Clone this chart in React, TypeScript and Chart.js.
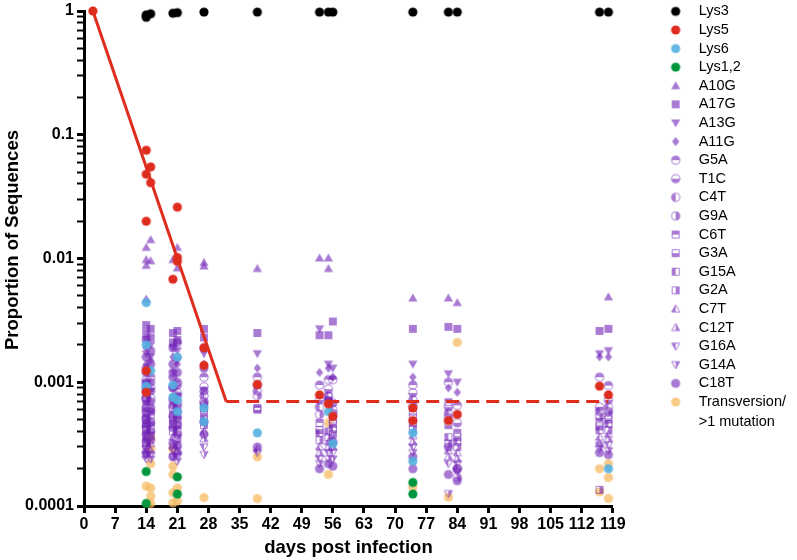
import { useEffect, useRef } from "react"
import { Chart, registerables } from "chart.js"

Chart.register(...registerables)

type Pt = [number, number] // [day, proportion]

const FONT = "'Liberation Sans', Arial, Helvetica, sans-serif"

// axis ticks
const xTicks = [0, 7, 14, 21, 28, 35, 42, 49, 56, 63, 70, 77, 84, 91, 98, 105, 112, 119]
const yTickLabels = ["0.0001", "0.001", "0.01", "0.1", "1"]
const yTitle = "Proportion of Sequences"
const xTitle = "days post infection"

const seriesNames = [
  "Lys3", "Lys5", "Lys6", "Lys1,2",
  "A10G", "A17G", "A13G", "A11G",
  "G5A", "T1C", "C4T", "G9A",
  "C6T", "G3A", "G15A", "G2A",
  "C7T", "C12T", "G16A", "G14A",
  "C18T", "Transversion/\n>1 mutation",
]

// fitted decline of Lys5, then plateau
const fitDecline: Pt[] = [[2, 1], [32, 0.0007]]
const fitPlateau: Pt[] = [[32, 0.0007], [118, 0.0007]]

const lys3: Pt[] = [[14, 0.93], [14, 0.89], [15, 0.95], [20, 0.96], [21, 0.97], [27, 0.98], [39, 0.98], [53, 0.98], [55, 0.98], [56, 0.98], [74, 0.98], [82, 0.98], [84, 0.98], [116, 0.98], [118, 0.98]]
const lys5: Pt[] = [[2, 1], [14, 0.075], [15, 0.055], [14, 0.048], [15, 0.041], [21, 0.026], [14, 0.02], [21, 0.0102], [21, 0.0095], [20, 0.0068], [27, 0.0019], [27, 0.00137], [14, 0.00124], [14, 0.00083], [39, 0.00096], [53, 0.00079], [55, 0.00067], [56, 0.00053], [74, 0.00062], [74, 0.00049], [82, 0.00049], [84, 0.00055], [116, 0.00093], [118, 0.00079]]
const lys6: Pt[] = [[14, 0.0044], [14, 0.002], [15, 0.00124], [14, 0.00093], [21, 0.0016], [20, 0.00095], [20, 0.00076], [21, 0.00072], [21, 0.00058], [27, 0.00062], [27, 0.00048], [39, 0.00039], [55, 0.00058], [56, 0.00032], [74, 0.00039], [74, 0.00023], [118, 0.0002]]
const lys12: Pt[] = [[14, 0.00019], [14, 0.000105], [21, 0.000172], [21, 0.000125], [74, 0.000155], [74, 0.000125]]

const a10g: Pt[] = [[14, 0.0123], [14, 0.0098], [14, 0.0088], [14, 0.0047], [15, 0.0142], [15, 0.0096], [20, 0.0098], [21, 0.0123], [21, 0.0084], [27, 0.0093], [27, 0.0087], [39, 0.0083], [53, 0.0101], [55, 0.0101], [55, 0.0083], [74, 0.0048], [82, 0.0048], [84, 0.0044], [118, 0.0049]]
const a17g: Pt[] = [[14, 0.0029], [14, 0.0025], [15, 0.0027], [15, 0.0023], [20, 0.0025], [20, 0.0021], [21, 0.0026], [21, 0.0022], [27, 0.0027], [27, 0.0023], [39, 0.0025], [53, 0.0024], [55, 0.0024], [56, 0.0031], [74, 0.0027], [82, 0.0028], [84, 0.0027], [116, 0.0026], [118, 0.0027]]
const a13g: Pt[] = [[14, 0.0022], [14, 0.0017], [15, 0.002], [15, 0.0016], [20, 0.0019], [21, 0.0018], [21, 0.0015], [27, 0.0017], [39, 0.0017], [53, 0.0027], [55, 0.0014], [56, 0.0013], [74, 0.0014], [82, 0.00117], [84, 0.001], [116, 0.0017], [118, 0.0018]]
const a11g: Pt[] = [[14, 0.0019], [14, 0.0014], [15, 0.0015], [20, 0.0016], [20, 0.0012], [21, 0.0014], [27, 0.0014], [39, 0.0013], [53, 0.0012], [55, 0.0013], [56, 0.0011], [74, 0.0011], [82, 0.0009], [84, 0.00083], [116, 0.0016], [118, 0.0016]]
const g5a: Pt[] = [[14, 0.0013], [14, 0.00095], [15, 0.0011], [20, 0.0012], [21, 0.001], [27, 0.0011], [39, 0.0011], [53, 0.00095], [55, 0.00105], [56, 0.00105], [74, 0.00095], [82, 0.001], [84, 0.00065], [116, 0.0011], [118, 0.00094]]
const t1c: Pt[] = [[14, 0.00105], [14, 0.00072], [15, 0.0009], [20, 0.00092], [21, 0.00082], [27, 0.00092], [39, 0.00095], [53, 0.00072], [55, 0.00088], [56, 0.00068], [74, 0.00082], [82, 0.00063], [84, 0.00047], [116, 0.00063], [118, 0.00072]]
const c4t: Pt[] = [[14, 0.00085], [14, 0.00058], [15, 0.00075], [20, 0.00072], [21, 0.00068], [27, 0.00078], [39, 0.00085], [53, 0.00063], [55, 0.00077], [56, 0.0006], [74, 0.00072], [82, 0.00056], [84, 0.0002], [116, 0.00058], [118, 0.00063]]
const g9a: Pt[] = [[14, 0.00075], [14, 0.0005], [15, 0.00062], [20, 0.00062], [21, 0.00058], [27, 0.0007], [39, 0.00078], [53, 0.00055], [55, 0.0007], [56, 0.00056], [74, 0.00065], [82, 0.00052], [84, 0.00017], [116, 0.00053], [118, 0.00058]]
const c6t: Pt[] = [[14, 0.00065], [14, 0.00046], [15, 0.00055], [20, 0.00055], [21, 0.0005], [27, 0.00062], [39, 0.00062], [53, 0.00047], [55, 0.0007], [56, 0.0005], [74, 0.00058], [82, 0.00069], [84, 0.00039], [116, 0.00048], [118, 0.00054]]
const g3a: Pt[] = [[14, 0.00055], [14, 0.00041], [15, 0.00048], [20, 0.0005], [21, 0.00045], [27, 0.00057], [39, 0.0006], [53, 0.00041], [55, 0.00077], [56, 0.00046], [74, 0.00052], [82, 0.00045], [84, 0.00036], [116, 0.00044], [118, 0.0005]]
const g15a: Pt[] = [[14, 0.00047], [14, 0.00036], [15, 0.00042], [20, 0.00046], [21, 0.0004], [27, 0.0005], [53, 0.00039], [55, 0.0004], [56, 0.00042], [74, 0.00047], [82, 0.00036], [84, 0.00033], [116, 0.00041], [118, 0.00046]]
const g2a: Pt[] = [[14, 0.00042], [14, 0.00031], [15, 0.00037], [20, 0.0004], [21, 0.00035], [27, 0.00045], [53, 0.00034], [55, 0.00036], [56, 0.00038], [74, 0.00042], [82, 0.00032], [84, 0.0003], [116, 0.000135], [118, 0.00041]]
const c7t: Pt[] = [[14, 0.00036], [14, 0.00028], [15, 0.00032], [20, 0.00036], [21, 0.00031], [27, 0.0004], [39, 0.00029], [53, 0.0003], [55, 0.00033], [56, 0.00034], [74, 0.00037], [82, 0.00028], [84, 0.00027], [116, 0.00036], [118, 0.00038]]
const c12t: Pt[] = [[14, 0.00032], [14, 0.00026], [15, 0.00028], [20, 0.00031], [21, 0.00028], [27, 0.00035], [53, 0.00027], [55, 0.0003], [56, 0.0003], [74, 0.00033], [82, 0.00025], [84, 0.00024], [116, 0.00032], [118, 0.00035]]
const g16a: Pt[] = [[14, 0.00029], [14, 0.00024], [15, 0.00026], [20, 0.00028], [21, 0.00025], [27, 0.0003], [39, 0.00027], [53, 0.00024], [55, 0.00027], [56, 0.00027], [74, 0.0003], [82, 0.00022], [84, 0.00022], [116, 0.00031], [118, 0.00031]]
const g14a: Pt[] = [[14, 0.00026], [15, 0.00024], [20, 0.00025], [21, 0.00023], [27, 0.00026], [53, 0.00022], [55, 0.00024], [56, 0.00024], [74, 0.00027], [82, 0.000126], [84, 0.00019], [116, 0.00029], [118, 0.00028]]
const c18t: Pt[] = [[14, 0.0022], [14, 0.0016], [14, 0.0012], [14, 0.001], [14, 0.0009], [14, 0.00075], [14, 0.00062], [14, 0.00052], [14, 0.00044], [14, 0.00038], [14, 0.00033], [14, 0.00027], [15, 0.0018], [15, 0.0014], [15, 0.001], [15, 0.00085], [15, 0.0007], [15, 0.00058], [15, 0.00047], [15, 0.0004], [15, 0.00034], [20, 0.0019], [20, 0.0014], [20, 0.0011], [20, 0.0009], [20, 0.00065], [20, 0.00053], [20, 0.00043], [20, 0.00032], [20, 0.00025], [21, 0.0021], [21, 0.0012], [21, 0.00095], [21, 0.00078], [21, 0.00064], [21, 0.00052], [21, 0.00045], [21, 0.00038], [21, 0.00031], [21, 0.00027], [27, 0.0019], [27, 0.0013], [27, 0.00085], [27, 0.00067], [27, 0.00048], [27, 0.00038], [39, 0.0003], [53, 0.0002], [55, 0.00022], [56, 0.00021], [56, 0.00033], [74, 0.00025], [74, 0.0002], [82, 0.0003], [82, 0.00018], [84, 0.0002], [84, 0.00016], [116, 0.00027], [118, 0.00026]]
const transversion: Pt[] = [[14, 0.000145], [15, 0.00036], [15, 0.00029], [15, 0.00022], [15, 0.00014], [15, 0.00012], [15, 0.000105], [20, 0.00029], [20, 0.00021], [20, 0.00018], [20, 0.000128], [20, 0.000106], [21, 0.00014], [21, 0.00011], [27, 0.000117], [39, 0.00025], [39, 0.000115], [55, 0.00047], [55, 0.00018], [74, 0.000142], [82, 0.000118], [84, 0.0021], [116, 0.0002], [116, 0.00013], [118, 0.00022], [118, 0.00017], [118, 0.000115]]

const seriesData = [lys3, lys5, lys6, lys12, a10g, a17g, a13g, a11g, g5a, t1c, c4t, g9a, c6t, g3a, g15a, g2a, c7t, c12t, g16a, g14a, c18t, transversion]

type Shape = "circle" | "square" | "triUp" | "triDown" | "diamond"
type Half = "full" | "top" | "bottom" | "left" | "right"

const PURPLE = "rgb(112, 34, 182)"
const PA = 0.6
const RED = "rgb(222, 45, 30)"

// marker look per series (same order as seriesNames)
const markerStyles: [Shape, Half, string, number][] = [
  ["circle", "full", "#000", 1],
  ["circle", "full", RED, 1],
  ["circle", "full", "rgb(84, 176, 224)", 0.9],
  ["circle", "full", "rgb(0, 150, 62)", 1],
  ["triUp", "full", PURPLE, PA],
  ["square", "full", PURPLE, PA],
  ["triDown", "full", PURPLE, PA],
  ["diamond", "full", PURPLE, PA],
  ["circle", "top", PURPLE, PA],
  ["circle", "bottom", PURPLE, PA],
  ["circle", "left", PURPLE, PA],
  ["circle", "right", PURPLE, PA],
  ["square", "top", PURPLE, PA],
  ["square", "bottom", PURPLE, PA],
  ["square", "left", PURPLE, PA],
  ["square", "right", PURPLE, PA],
  ["triUp", "left", PURPLE, PA],
  ["triUp", "right", PURPLE, PA],
  ["triDown", "left", PURPLE, PA],
  ["triDown", "right", PURPLE, PA],
  ["circle", "full", PURPLE, PA],
  ["circle", "full", "rgb(246, 186, 96)", 0.75],
]

function makeMarker(shape: Shape, half: Half, color: string, alpha: number, r = 4.6) {
  const size = 12
  const c = size / 2
  const cv = document.createElement("canvas")
  cv.width = size
  cv.height = size
  const g = cv.getContext("2d")!
  const rr = half === "full" ? r : r - 0.5
  const path = () => {
    g.beginPath()
    if (shape === "circle") {
      g.arc(c, c, rr, 0, Math.PI * 2)
    } else if (shape === "square") {
      const s = rr * 0.86
      g.rect(c - s, c - s, 2 * s, 2 * s)
    } else if (shape === "triUp") {
      g.moveTo(c, c - rr)
      g.lineTo(c + rr, c + rr * 0.75)
      g.lineTo(c - rr, c + rr * 0.75)
      g.closePath()
    } else if (shape === "triDown") {
      g.moveTo(c, c + rr)
      g.lineTo(c + rr, c - rr * 0.75)
      g.lineTo(c - rr, c - rr * 0.75)
      g.closePath()
    } else {
      g.moveTo(c, c - rr)
      g.lineTo(c + rr * 0.8, c)
      g.lineTo(c, c + rr)
      g.lineTo(c - rr * 0.8, c)
      g.closePath()
    }
  }
  g.fillStyle = color
  g.strokeStyle = color
  g.lineWidth = 1
  if (half === "full") {
    path()
    g.fill()
  } else {
    g.save()
    g.beginPath()
    if (half === "top") g.rect(0, 0, size, c)
    else if (half === "bottom") g.rect(0, c, size, c)
    else if (half === "left") g.rect(0, 0, c, size)
    else g.rect(c, 0, c, size)
    g.clip()
    path()
    g.fill()
    g.restore()
    path()
    g.stroke()
  }
  // bake the transparency into the image
  g.globalCompositeOperation = "destination-in"
  g.fillStyle = `rgba(0,0,0,${alpha})`
  g.fillRect(0, 0, size, size)
  return cv
}

const pts = (a: Pt[]) => a.map(([x, y]) => ({ x, y }))

const isDecade = (v: number) => {
  const e = Math.log10(v)
  return Math.abs(e - Math.round(e)) < 1e-6
}

// y title sits a bit above the axis middle in the original, so draw it by hand
const yTitlePlugin = {
  id: "yTitle",
  afterDraw(chart: Chart) {
    const c = chart.ctx
    c.save()
    c.translate(13, 240)
    c.rotate(-Math.PI / 2)
    c.font = `bold 18.5px ${FONT}`
    c.fillStyle = "#000"
    c.textAlign = "center"
    c.textBaseline = "middle"
    c.fillText(yTitle, 0, 0)
    c.restore()
  },
}

export default function App() {
  const chartRef = useRef<HTMLCanvasElement>(null)

  useEffect(() => {
    if (!chartRef.current) return
    const ctx = chartRef.current.getContext("2d")
    if (!ctx) return

    const markers = markerStyles.map(([s, h, col, a]) => makeMarker(s, h, col, a))

    const chart = new Chart(ctx, {
      type: "scatter",
      data: {
        datasets: [
          {
            type: "line",
            label: "",
            data: pts(fitDecline),
            borderColor: RED,
            borderWidth: 3,
            pointRadius: 0,
            fill: false,
            clip: false,
          } as any,
          {
            type: "line",
            label: "",
            data: pts(fitPlateau),
            borderColor: RED,
            borderWidth: 3,
            borderDash: [13, 7],
            pointRadius: 0,
            fill: false,
            clip: false,
          } as any,
          ...seriesData.map((d, i) => ({
            label: seriesNames[i],
            data: pts(d),
            pointStyle: markers[i],
            pointRadius: 5,
            clip: false,
          })),
        ],
      },
      options: {
        animation: false,
        responsive: true,
        maintainAspectRatio: false,
        events: [],
        layout: { padding: { left: 0, right: 10, top: 0, bottom: 0 } },
        plugins: {
          tooltip: { enabled: false },
          legend: {
            position: "right",
            align: "start",
            labels: {
              usePointStyle: true,
              pointStyleWidth: 31.5,
              padding: 4.1,
              color: "#000",
              font: { family: FONT, size: 14.5, lineHeight: 1.4 },
              filter: (item: any) => item.text !== "",
              generateLabels: (c: Chart) =>
                Chart.defaults.plugins.legend.labels.generateLabels(c).map((item: any) => ({
                  ...item,
                  text: typeof item.text === "string" && item.text.includes("\n") ? item.text.split("\n") : item.text,
                })),
            },
          },
        },
        scales: {
          x: {
            type: "linear",
            min: 0,
            max: 119,
            border: { color: "#000", width: 3 },
            grid: { drawOnChartArea: false, tickLength: 7, tickWidth: 3, tickColor: "#000" },
            afterBuildTicks: (s: any) => {
              s.ticks = xTicks.map((value) => ({ value }))
            },
            ticks: {
              autoSkip: false,
              maxRotation: 0,
              color: "#000",
              padding: 2,
              font: { family: FONT, size: 16, weight: "bold" },
            },
            title: {
              display: true,
              text: xTitle,
              color: "#000",
              font: { family: FONT, size: 18.5, weight: "bold" },
              padding: { top: 2, bottom: 1 },
            },
            afterFit: (s: any) => {
              s.height = 54
            },
          },
          y: {
            type: "logarithmic",
            min: 0.0001,
            max: 1,
            border: { color: "#000", width: 3 },
            grid: {
              drawOnChartArea: false,
              tickLength: 7,
              tickColor: "#000",
              tickWidth: (c: any) => (c.tick && isDecade(c.tick.value) ? 3 : 2),
            },
            afterBuildTicks: (s: any) => {
              // keep 1..9 per decade only
              s.ticks = s.ticks.filter((t: any) => {
                const m = t.value / Math.pow(10, Math.floor(Math.log10(t.value) + 1e-9))
                return Math.abs(m - Math.round(m)) < 1e-6
              })
            },
            ticks: {
              autoSkip: false,
              color: "#000",
              padding: 3,
              font: { family: FONT, size: 16, weight: "bold" },
              callback: (v: any) => {
                const n = Number(v)
                return isDecade(n) ? yTickLabels[Math.round(Math.log10(n)) + 4] : ""
              },
            },
            afterFit: (s: any) => {
              s.width = 84
              s.paddingTop = 11
            },
          },
          gap: {
            type: "linear",
            position: "right",
            grid: { display: false },
            border: { display: false },
            ticks: { display: false },
            afterFit: (s: any) => {
              s.width = 43
            },
          },
        },
      } as any,
      plugins: [yTitlePlugin],
    })

    return () => {
      chart.destroy()
    }
  }, [])

  return (
    <div style={{ position: "fixed", left: 0, top: 0, width: 797, height: 560, background: "#fff" }}>
      <canvas ref={chartRef} />
    </div>
  )
}
